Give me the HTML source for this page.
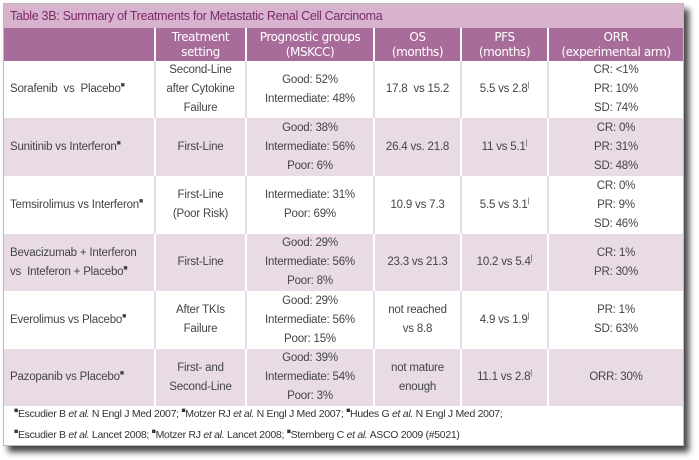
<!DOCTYPE html>
<html><head><meta charset="utf-8"><style>
body{margin:0;width:699px;height:460px;background:#fff;overflow:hidden;font-family:"Liberation Sans",sans-serif}
#card{position:absolute;left:3px;top:3px;width:681px;height:443px;background:#fff;box-shadow:5px 6px 6px #444;border:1px solid #bbb;box-sizing:border-box}
#title{position:absolute;left:0;top:0;width:679px;height:24px;background:#d7b3cd;color:#7c2a68;font-size:12.5px;line-height:24px;padding-left:6px;box-sizing:border-box;letter-spacing:-0.3px}
table{position:absolute;left:0;top:24px;border-collapse:collapse;width:679px;table-layout:fixed}
td,th{font-size:11.5px;color:#444;text-align:center;border-left:2px solid #fff;padding:0;line-height:19px;letter-spacing:-0.2px;white-space:nowrap}
th{background:#a86c9a;color:#fff;height:33px;line-height:15px;font-size:12px;font-family:"DejaVu Sans",sans-serif;font-weight:normal;letter-spacing:-0.4px}
tr.w td{background:#fff;border-left-color:#e8dbe5}
tr.p td{background:#e8dbe5}
td.n{text-align:left;padding-left:6px}
sup{font-size:7px;line-height:0}
#fn{position:absolute;left:10px;top:400px;font-size:10.5px;color:#333;line-height:21px;letter-spacing:-0.3px}
</style></head><body>
<div id="card">
<div id="title">Table 3B: Summary of Treatments for Metastatic Renal Cell Carcinoma</div>
<table>
<colgroup><col style="width:151px"><col style="width:91px"><col style="width:128px"><col style="width:87px"><col style="width:87px"><col style="width:135px"></colgroup>
<tr><th style="border-left:none"></th><th>Treatment<br>setting</th><th>Prognostic groups<br>(MSKCC)</th><th>OS<br>(months)</th><th>PFS<br>(months)</th><th>ORR<br>(experimental arm)</th></tr>
<tr class="w" style="height:56px"><td class="n" style="border-left:none">Sorafenib&nbsp; vs&nbsp; Placebo<sup>■</sup></td><td>Second-Line<br>after Cytokine<br>Failure</td><td>Good: 52%<br>Intermediate: 48%</td><td>17.8&nbsp; vs 15.2</td><td>5.5 vs 2.8<sup>|</sup></td><td>CR: &lt;1%<br>PR: 10%<br>SD: 74%</td></tr>
<tr class="p" style="height:58px"><td class="n" style="border-left:none">Sunitinib vs Interferon<sup>■</sup></td><td>First-Line</td><td>Good: 38%<br>Intermediate: 56%<br>Poor: 6%</td><td>26.4 vs. 21.8</td><td>11 vs 5.1<sup>|</sup></td><td>CR: 0%<br>PR: 31%<br>SD: 48%</td></tr>
<tr class="w" style="height:58px"><td class="n" style="border-left:none">Temsirolimus vs Interferon<sup>■</sup></td><td>First-Line<br>(Poor Risk)</td><td>Intermediate: 31%<br>Poor: 69%</td><td>10.9 vs 7.3</td><td>5.5 vs 3.1<sup>|</sup></td><td>CR: 0%<br>PR: 9%<br>SD: 46%</td></tr>
<tr class="p" style="height:57px"><td class="n" style="border-left:none">Bevacizumab + Interferon<br>vs&nbsp; Inteferon + Placebo<sup>■</sup></td><td>First-Line</td><td>Good: 29%<br>Intermediate: 56%<br>Poor: 8%</td><td>23.3 vs 21.3</td><td>10.2 vs 5.4<sup>|</sup></td><td>CR: 1%<br>PR: 30%</td></tr>
<tr class="w" style="height:58px"><td class="n" style="border-left:none">Everolimus vs Placebo<sup>■</sup></td><td>After TKIs<br>Failure</td><td>Good: 29%<br>Intermediate: 56%<br>Poor: 15%</td><td>not reached<br>vs 8.8</td><td>4.9 vs 1.9<sup>|</sup></td><td>PR: 1%<br>SD: 63%</td></tr>
<tr class="p" style="height:57px"><td class="n" style="border-left:none">Pazopanib vs Placebo<sup>■</sup></td><td>First- and<br>Second-Line</td><td>Good: 39%<br>Intermediate: 54%<br>Poor: 3%</td><td>not mature<br>enough</td><td>11.1 vs 2.8<sup>|</sup></td><td>ORR: 30%</td></tr>
</table>
<div id="fn"><sup>■</sup>Escudier B <i>et al.</i> N Engl J Med 2007; <sup>■</sup>Motzer RJ <i>et al.</i> N Engl J Med 2007; <sup>■</sup>Hudes G <i>et al.</i> N Engl J Med 2007;<br><sup>■</sup>Escudier B <i>et al.</i> Lancet 2008; <sup>■</sup>Motzer RJ <i>et al.</i> Lancet 2008; <sup>■</sup>Sternberg C <i>et al.</i> ASCO 2009 (#5021)</div>
</div>
</body></html>
